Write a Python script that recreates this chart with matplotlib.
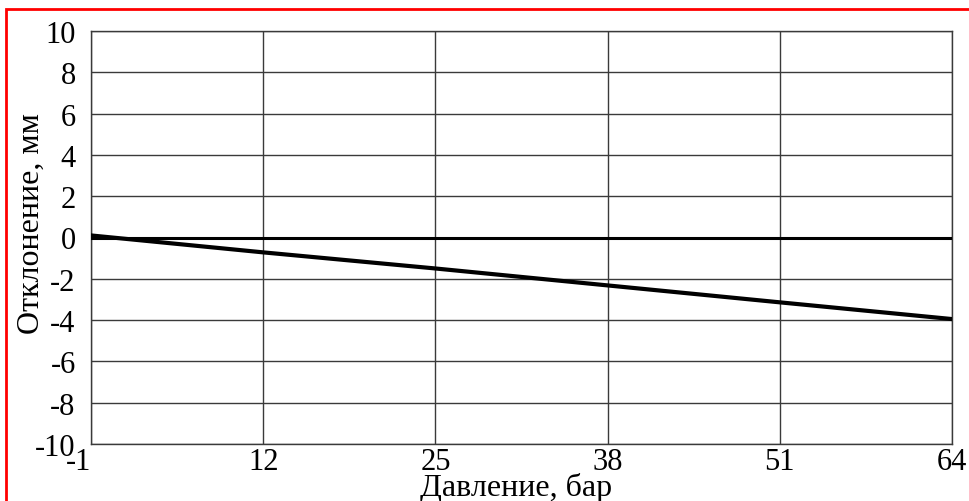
import matplotlib.pyplot as plt
from matplotlib.patches import Rectangle

plt.rcdefaults()
plt.rcParams['font.family'] = ['Liberation Serif', 'DejaVu Serif']
plt.rcParams['axes.unicode_minus'] = False

# давление, бар
pressure = [-1, 12, 25, 38, 51, 64]
# отклонение, мм
deviation = [0.1, -0.72, -1.5, -2.32, -3.14, -3.95]
zero_line = [0, 0, 0, 0, 0, 0]

x_ticks = [-1, 12, 25, 38, 51, 64]
y_ticks = [-10, -8, -6, -4, -2, 0, 2, 4, 6, 8, 10]

fig = plt.figure(figsize=(9.69, 5.02), dpi=100)
ax = fig.add_axes([91 / 969, 1 - 445 / 502, 861 / 969, 413 / 502])

ax.plot(pressure, zero_line, color='black', linewidth=2.2, zorder=3)
ax.plot(pressure, deviation, color='black', linewidth=3, zorder=4)

ax.set_xlim(-1, 64)
ax.set_ylim(-10, 10)
ax.set_xticks(x_ticks)
ax.set_yticks(y_ticks)
ax.grid(True, color='#3a3a3a', linewidth=1.0)
for s in ax.spines.values():
    s.set_color('#3a3a3a')
    s.set_linewidth(1.0)
ax.tick_params(length=0, labelsize=22, pad=2)
ax.tick_params(axis='y', pad=11)

xl = ax.get_xticklabels()
xl[0].set_horizontalalignment('right')
xl[0].set_x(-0.3)

ax.set_xlabel('Давление, бар', fontsize=23)
ax.xaxis.set_label_coords(0.494, -0.068)
ax.set_ylabel('Отклонение, мм', fontsize=23)
ax.yaxis.set_label_coords(-0.053, 0.537)

# красная рамка
fig.patches.append(Rectangle((6 / 969, -0.05), 1.1, 1 - 10 / 502 + 0.05,
                             transform=fig.transFigure, fill=False,
                             edgecolor='red', linewidth=2))

plt.savefig('out.png', dpi=100)
